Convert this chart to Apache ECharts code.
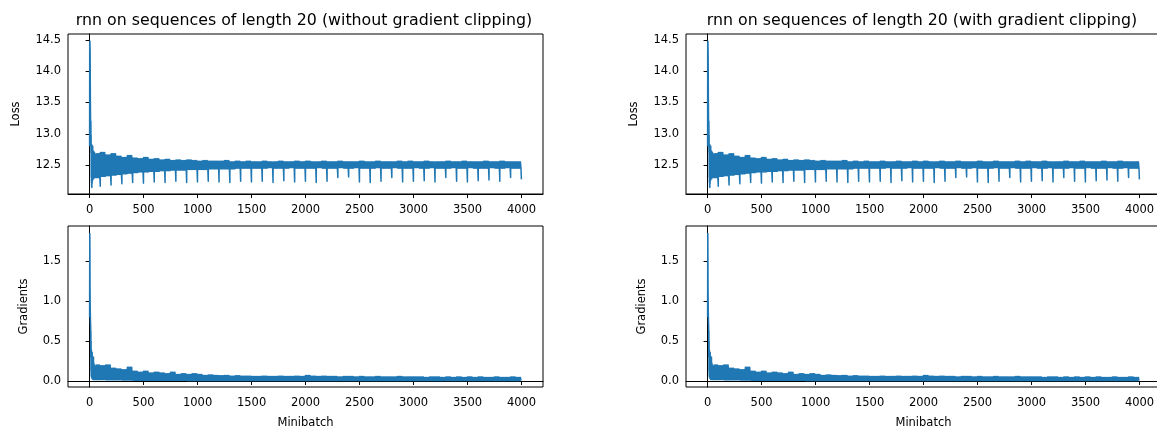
<!DOCTYPE html>
<html>
<head>
<meta charset="utf-8">
<script src="https://cdn.jsdelivr.net/npm/echarts@6/dist/echarts.min.js"></script>
<style>
  html, body { margin: 0; padding: 0; background: #fff; }
  #chart { width: 1157px; height: 427px; }
</style>
</head>
<body>
<div id="chart"></div>
<script>
// titles / tick labels
const titles = [
  'rnn on sequences of length 20 (without gradient clipping)',
  'rnn on sequences of length 20 (with gradient clipping)'
];
const xTicks = [0, 500, 1000, 1500, 2000, 2500, 3000, 3500, 4000];
const lossTicks = [12.5, 13.0, 13.5, 14.0, 14.5];
const gradTicks = [0.0, 0.5, 1.0, 1.5];

// first 50 minibatches, read point by point
const lossHead = [[0,12.80],[1,14.44],[3,14.48],[5,14.30],[7,13.60],[9,13.18],[11,12.95],[12,13.20],[13,12.70],
  [14,12.98],[15,12.30],[16,12.82],[17,12.22],[18,12.80],[19,12.15],[20,12.78],[21,12.14],[22,12.82],[23,12.20],
  [25,12.75],[27,12.25],[29,12.80],[31,12.28],[33,12.70],[35,12.30],[37,12.72],[39,12.28],[41,12.68],[43,12.30],
  [45,12.70],[47,12.32],[49,12.66]];
const gradHead = [[0,0.80],[1,1.50],[2,1.84],[3,1.60],[4,1.20],[6,0.90],[8,0.75],[10,0.68],[11,0.30],[12,0.62],
  [13,0.12],[14,0.50],[15,0.06],[16,0.40],[17,0.05],[18,0.35],[19,0.04],[20,0.34],[22,0.03],[24,0.36],[26,0.03],
  [28,0.30],[30,0.02],[32,0.25],[34,0.02],[36,0.30],[38,0.02],[40,0.22],[42,0.02],[44,0.20],[46,0.02],[48,0.18]];

// band upper / lower edge per 50 minibatches, starting at 50
const lossTop = [
  12.68,12.70,12.66,12.68,12.64,12.62,12.65,12.61,12.60,12.62,
  12.59,12.60,12.58,12.59,12.57,12.58,12.57,12.58,12.57,12.56,
  12.57,12.56,12.56,12.56,12.57,12.55,12.56,12.55,12.56,12.55,
  12.55,12.56,12.55,12.55,12.56,12.55,12.55,12.56,12.55,12.56,
  12.55,12.55,12.56,12.55,12.55,12.56,12.55,12.55,12.55,12.56,
  12.55,12.55,12.56,12.55,12.55,12.55,12.56,12.55,12.56,12.55,
  12.55,12.56,12.55,12.55,12.55,12.56,12.55,12.55,12.56,12.55,
  12.55,12.55,12.56,12.55,12.55,12.56,12.55,12.55,12.55];
const lossBottom = [
  12.30,12.32,12.33,12.34,12.35,12.36,12.37,12.38,12.39,12.39,
  12.40,12.40,12.41,12.41,12.42,12.42,12.42,12.43,12.43,12.43,
  12.43,12.44,12.44,12.44,12.44,12.44,12.45,12.45,12.45,12.45,
  12.45,12.45,12.46,12.45,12.45,12.45,12.46,12.45,12.45,12.45,
  12.45,12.46,12.45,12.45,12.45,12.46,12.45,12.45,12.46,12.45,
  12.45,12.45,12.46,12.45,12.45,12.46,12.45,12.45,12.45,12.46,
  12.45,12.45,12.46,12.45,12.45,12.45,12.46,12.45,12.45,12.46,
  12.45,12.45,12.45,12.46,12.45,12.45,12.46,12.45,12.45];
// last minibatch of each epoch (99, 199, ... 3999)
const lossDips = [
  12.16,12.18,12.20,12.22,12.21,12.23,12.22,12.24,12.22,12.23,
  12.24,12.23,12.22,12.24,12.23,12.24,12.22,12.25,12.23,12.24,
  12.22,12.24,12.30,12.31,12.23,12.22,12.24,12.30,12.23,12.24,
  12.25,12.23,12.30,12.24,12.23,12.25,12.26,12.24,12.30,12.27];

const gradTop = [
  0.20,0.19,0.20,0.16,0.15,0.14,0.17,0.12,0.11,0.12,
  0.10,0.11,0.10,0.09,0.11,0.08,0.09,0.08,0.09,0.08,
  0.07,0.075,0.07,0.065,0.07,0.06,0.065,0.06,0.06,0.055,
  0.055,0.06,0.055,0.055,0.06,0.055,0.055,0.06,0.055,0.07,
  0.06,0.055,0.06,0.055,0.055,0.05,0.055,0.055,0.05,0.055,
  0.05,0.05,0.055,0.05,0.05,0.05,0.055,0.05,0.05,0.05,
  0.05,0.045,0.05,0.05,0.045,0.05,0.045,0.05,0.045,0.05,
  0.045,0.05,0.045,0.045,0.05,0.045,0.045,0.05,0.045];
const gradBottom = [
  0.020,0.020,0.015,0.015,0.015,0.012,0.012,0.010,0.010,0.010,
  0.010,0.009,0.009,0.008,0.008,0.008,0.008,0.007,0.007,0.007,
  0.007,0.006,0.006,0.006,0.006,0.006,0.006,0.006,0.005,0.005,
  0.005,0.005,0.005,0.005,0.005,0.005,0.005,0.005,0.005,0.005,
  0.005,0.005,0.005,0.005,0.005,0.005,0.005,0.005,0.005,0.005,
  0.005,0.005,0.005,0.005,0.005,0.005,0.005,0.005,0.005,0.005,
  0.005,0.005,0.005,0.005,0.005,0.005,0.005,0.005,0.005,0.005,
  0.005,0.005,0.005,0.005,0.005,0.005,0.005,0.005,0.005];

// zigzag between the read edges so the band is filled like the noisy original
function buildLine(head, top, bottom, dips) {
  const pts = head.slice();
  top.forEach((t, i) => {
    const x0 = 50 + 50 * i;
    for (let j = 0; j < 10; j++) pts.push([x0 + 5 * j, j % 2 ? bottom[i] : t]);
    if (dips && (x0 + 50) % 100 === 0) pts.push([x0 + 49, dips[(x0 + 50) / 100 - 1]]);
  });
  return pts;
}
const lossLine = buildLine(lossHead, lossTop, lossBottom, lossDips);
const gradLine = buildLine(gradHead, gradTop, gradBottom, null);

const FONT = 'DejaVu Sans';
const TXT = {fontFamily: FONT, fontSize: 11.5, color: '#000'};
const grids = [
  {left: 68, top: 34, width: 475, height: 160},
  {left: 68, top: 226, width: 475, height: 161},
  {left: 686, top: 34, width: 475, height: 160},
  {left: 686, top: 226, width: 475, height: 161}
];

function xAxis(i, named) {
  return {
    type: 'value', gridIndex: i, min: -200, max: 4199,
    name: named ? 'Minibatch' : '', nameLocation: 'middle', nameGap: 30,
    nameTextStyle: TXT,
    axisLine: {show: true, lineStyle: {color: '#000', width: 1}},
    axisTick: {show: true, inside: false, length: 4, customValues: xTicks, lineStyle: {color: '#000'}},
    axisLabel: Object.assign({customValues: xTicks, margin: 10, formatter: v => String(v)}, TXT),
    splitLine: {show: false}
  };
}
function yAxis(i, name, min, max, ticks, gap) {
  return {
    type: 'value', gridIndex: i, min: min, max: max,
    name: name, nameLocation: 'middle', nameGap: gap,
    nameTextStyle: TXT,
    axisLine: {show: true, lineStyle: {color: '#000', width: 1}},
    axisTick: {show: true, inside: false, length: 4, customValues: ticks, lineStyle: {color: '#000'}},
    axisLabel: Object.assign({customValues: ticks, margin: 7, formatter: v => v.toFixed(1)}, TXT),
    splitLine: {show: false}
  };
}
function line(i, data) {
  return {
    type: 'line', xAxisIndex: i, yAxisIndex: i, data: data,
    showSymbol: false, symbol: 'none', animation: false, silent: true,
    lineStyle: {color: '#1f77b4', width: 1.5, join: 'round'}
  };
}

const chart = echarts.init(document.getElementById('chart'), null, {renderer: 'canvas'});
chart.setOption({
  animation: false,
  backgroundColor: '#fff',
  title: [
    {text: titles[0], left: 299, top: 8, textAlign: 'center',
      textStyle: {fontFamily: FONT, fontSize: 15.8, fontWeight: 'normal', color: '#000'}},
    {text: titles[1], left: 917, top: 8, textAlign: 'center',
      textStyle: {fontFamily: FONT, fontSize: 15.8, fontWeight: 'normal', color: '#000'}}
  ],
  grid: grids.map(g => Object.assign({show: true, borderColor: '#000', borderWidth: 1,
    containLabel: false, outerBoundsMode: 'none'}, g)),
  xAxis: [xAxis(0, false), xAxis(1, true), xAxis(2, false), xAxis(3, true)],
  yAxis: [
    yAxis(0, 'Loss', 12.036, 14.596, lossTicks, 46),
    yAxis(1, 'Gradients', -0.075, 1.934, gradTicks, 38),
    yAxis(2, 'Loss', 12.036, 14.596, lossTicks, 46),
    yAxis(3, 'Gradients', -0.075, 1.934, gradTicks, 38)
  ],
  series: [line(0, lossLine), line(1, gradLine), line(2, lossLine), line(3, gradLine)]
});
</script>
</body>
</html>
